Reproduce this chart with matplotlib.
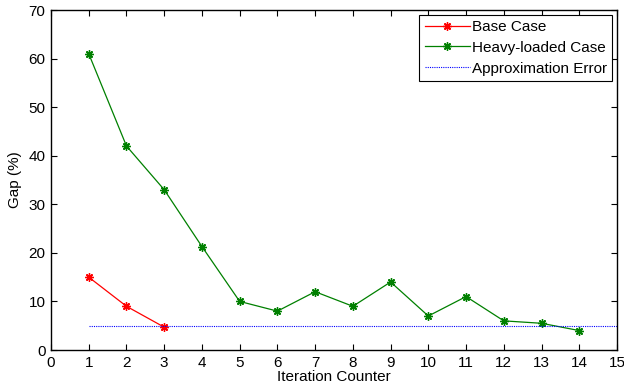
import matplotlib
matplotlib.use('Agg')
import matplotlib.pyplot as plt

plt.rcParams['font.family'] = ['Liberation Sans', 'DejaVu Sans']
plt.rcParams['font.size'] = 11

# data
base_iter = [1, 2, 3]
base_gap = [15, 9, 4.7]
heavy_iter = list(range(1, 15))
heavy_gap = [61, 42, 33, 21.3, 10, 8, 12, 9, 14, 7, 11, 6, 5.5, 4]
approx_x = [1, 15]
approx_err = [5, 5]

star = (8, 2, 0)  # asterisk like matlab '*'

fig = plt.figure(figsize=(6.24, 3.9), dpi=100)
ax = fig.add_axes([51 / 624, 40 / 390, 566 / 624, 340 / 390])

ax.plot(base_iter, base_gap, color='red', marker=star, markersize=6, markeredgewidth=1.0,
        linewidth=0.9, label='Base Case')
ax.plot(heavy_iter, heavy_gap, color='green', marker=star, markersize=6, markeredgewidth=1.0,
        linewidth=0.9, label='Heavy-loaded Case')
ax.plot(approx_x, approx_err, color='blue', linestyle=(0, (1, 1)), linewidth=0.8,
        label='Approximation Error')

ax.set_xlim(0, 15)
ax.set_ylim(0, 70)
ax.set_xticks(range(0, 16))
ax.set_yticks(range(0, 71, 10))
ax.tick_params(direction='in', top=True, right=True, length=4, width=0.8, pad=4)
for s in ax.spines.values():
    s.set_linewidth(1.0)

ax.set_xlabel('Iteration Counter', labelpad=0)
ax.set_ylabel('Gap (%)', labelpad=5)

leg = ax.legend(loc='upper right', fancybox=False, edgecolor='black', framealpha=1,
                borderaxespad=0.3, handlelength=3.0, handletextpad=0.1,
                labelspacing=0.45, borderpad=0.35)
leg.get_frame().set_linewidth(0.8)

fig.savefig('out.png', dpi=100)
